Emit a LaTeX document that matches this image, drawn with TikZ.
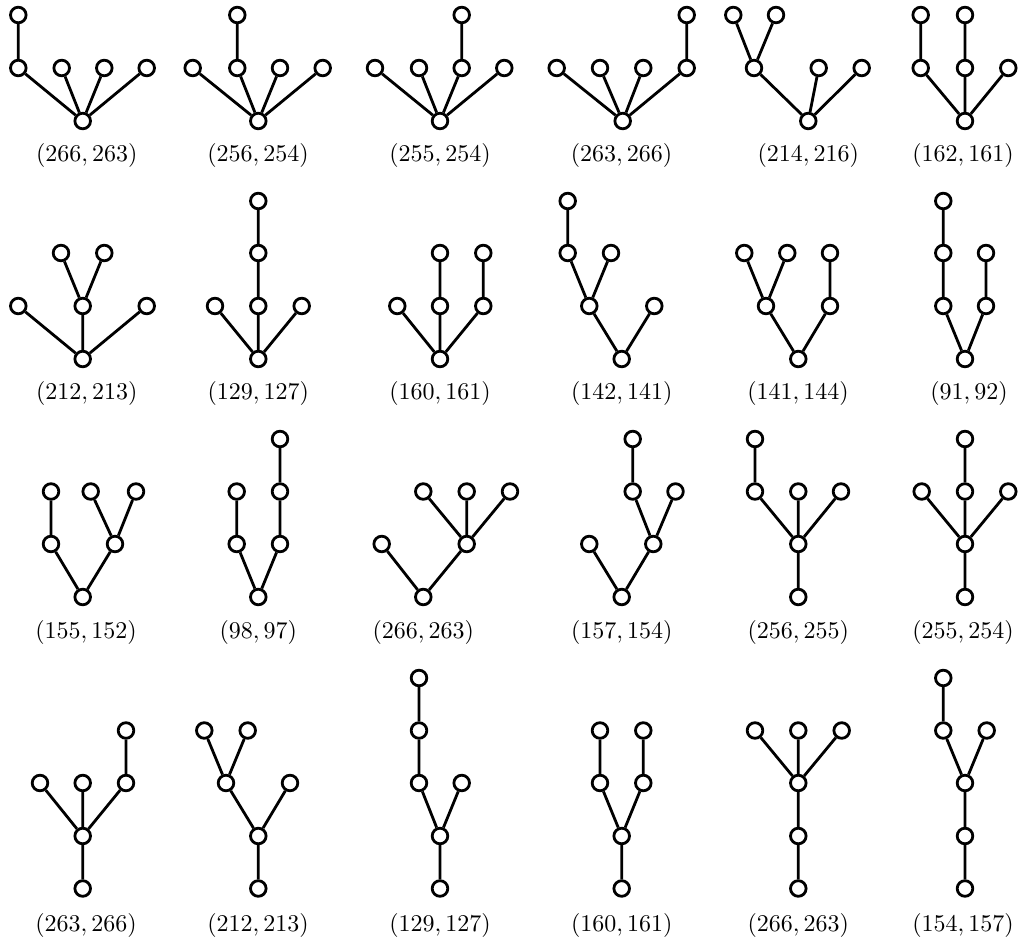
\documentclass[tikz,border=0pt]{standalone}
\begin{document}
\begin{tikzpicture}[x=1pt,y=-1pt,
  v/.style={circle,draw,line width=2.8pt,minimum size=15.6pt,inner sep=0pt,fill=white},
  e/.style={line width=2.8pt},
  lab/.style={inner sep=0pt,scale=2.4}]
\useasboundingbox (0,0) rectangle (1021,942);
% ---------- Row 1 ----------
% T1
\node[v] (t1r) at (82.7,121) {};
\node[v] (t1a) at (18.3,68) {};
\node[v] (t1b) at (61.7,68) {};
\node[v] (t1c) at (104.3,68) {};
\node[v] (t1d) at (146.7,68) {};
\node[v] (t1e) at (18.3,15) {};
\draw[e] (t1r)--(t1a) (t1r)--(t1b) (t1r)--(t1c) (t1r)--(t1d) (t1a)--(t1e);
\node[lab] (l1) at (86.7,155.5) {$(266, 263)$};
% T2
\node[v] (t2r) at (258.3,121) {};
\node[v] (t2a) at (192.7,68) {};
\node[v] (t2b) at (237.3,68) {};
\node[v] (t2c) at (280,68) {};
\node[v] (t2d) at (322.7,68) {};
\node[v] (t2e) at (237.3,15) {};
\draw[e] (t2r)--(t2a) (t2r)--(t2b) (t2r)--(t2c) (t2r)--(t2d) (t2b)--(t2e);
\node[lab] (l2) at (258,155.5) {$(256, 254)$};
% T3
\node[v] (t3r) at (440,121) {};
\node[v] (t3a) at (375,68) {};
\node[v] (t3b) at (419,68) {};
\node[v] (t3c) at (461.7,68) {};
\node[v] (t3d) at (504.3,68) {};
\node[v] (t3e) at (461.7,15) {};
\draw[e] (t3r)--(t3a) (t3r)--(t3b) (t3r)--(t3c) (t3r)--(t3d) (t3c)--(t3e);
\node[lab] (l3) at (440,155.5) {$(255, 254)$};
% T4
\node[v] (t4r) at (622.7,121) {};
\node[v] (t4a) at (556.7,68) {};
\node[v] (t4b) at (600,68) {};
\node[v] (t4c) at (643.3,68) {};
\node[v] (t4d) at (686.7,68) {};
\node[v] (t4e) at (686.7,15) {};
\draw[e] (t4r)--(t4a) (t4r)--(t4b) (t4r)--(t4c) (t4r)--(t4d) (t4d)--(t4e);
\node[lab] (l4) at (621.5,155.5) {$(263, 266)$};
% T5
\node[v] (t5r) at (808.3,121) {};
\node[v] (t5a) at (754,68) {};
\node[v] (t5b) at (818.7,68) {};
\node[v] (t5c) at (861.7,68) {};
\node[v] (t5e) at (733.3,15) {};
\node[v] (t5f) at (776,15) {};
\draw[e] (t5r)--(t5a) (t5r)--(t5b) (t5r)--(t5c) (t5a)--(t5e) (t5a)--(t5f);
\node[lab] (l5) at (808.3,155.5) {$(214, 216)$};
% T6
\node[v] (t6r) at (965,121) {};
\node[v] (t6a) at (920.7,68) {};
\node[v] (t6b) at (965,68) {};
\node[v] (t6c) at (1008.3,68) {};
\node[v] (t6e) at (920.7,15) {};
\node[v] (t6f) at (965,15) {};
\draw[e] (t6r)--(t6a) (t6r)--(t6b) (t6r)--(t6c) (t6a)--(t6e) (t6b)--(t6f);
\node[lab] (l6) at (963,155.5) {$(162, 161)$};
% ---------- Row 2 ----------
% T7
\node[v] (t7r) at (82.7,359) {};
\node[v] (t7a) at (18.3,306) {};
\node[v] (t7b) at (82.7,306) {};
\node[v] (t7c) at (146.7,306) {};
\node[v] (t7e) at (61,253) {};
\node[v] (t7f) at (104.3,253) {};
\draw[e] (t7r)--(t7a) (t7r)--(t7b) (t7r)--(t7c) (t7b)--(t7e) (t7b)--(t7f);
\node[lab] (l7) at (86.7,393) {$(212, 213)$};
% T8
\node[v] (t8r) at (258.3,359) {};
\node[v] (t8a) at (215,306) {};
\node[v] (t8b) at (258.3,306) {};
\node[v] (t8c) at (301.7,306) {};
\node[v] (t8e) at (258.3,253) {};
\node[v] (t8f) at (258.3,201) {};
\draw[e] (t8r)--(t8a) (t8r)--(t8b) (t8r)--(t8c) (t8b)--(t8e) (t8e)--(t8f);
\node[lab] (l8) at (258.3,393) {$(129, 127)$};
% T9
\node[v] (t9r) at (440,359) {};
\node[v] (t9a) at (397.3,306) {};
\node[v] (t9b) at (440,306) {};
\node[v] (t9c) at (483.3,306) {};
\node[v] (t9e) at (440,253) {};
\node[v] (t9f) at (483.3,253) {};
\draw[e] (t9r)--(t9a) (t9r)--(t9b) (t9r)--(t9c) (t9b)--(t9e) (t9c)--(t9f);
\node[lab] (l9) at (440,393) {$(160, 161)$};
% T10
\node[v] (t10r) at (621.7,359) {};
\node[v] (t10a) at (589.3,306) {};
\node[v] (t10b) at (654.3,306) {};
\node[v] (t10e) at (567.7,253) {};
\node[v] (t10f) at (611,253) {};
\node[v] (t10g) at (567.7,201) {};
\draw[e] (t10r)--(t10a) (t10r)--(t10b) (t10a)--(t10e) (t10a)--(t10f) (t10e)--(t10g);
\node[lab] (l10) at (621.7,393) {$(142, 141)$};
% T11
\node[v] (t11r) at (798.3,359) {};
\node[v] (t11a) at (766,306) {};
\node[v] (t11b) at (830,306) {};
\node[v] (t11e) at (744.3,253) {};
\node[v] (t11f) at (787.3,253) {};
\node[v] (t11g) at (830,253) {};
\draw[e] (t11r)--(t11a) (t11r)--(t11b) (t11a)--(t11e) (t11a)--(t11f) (t11b)--(t11g);
\node[lab] (l11) at (798,393) {$(141, 144)$};
% T12
\node[v] (t12r) at (965,359) {};
\node[v] (t12a) at (943.3,306) {};
\node[v] (t12b) at (986,306) {};
\node[v] (t12e) at (943.3,253) {};
\node[v] (t12f) at (986,253) {};
\node[v] (t12g) at (943.3,201) {};
\draw[e] (t12r)--(t12a) (t12r)--(t12b) (t12a)--(t12e) (t12e)--(t12g) (t12b)--(t12f);
\node[lab] (l12) at (969,393) {$(91, 92)$};
% ---------- Row 3 ----------
% T13
\node[v] (t13r) at (82.7,597) {};
\node[v] (t13a) at (51,544) {};
\node[v] (t13b) at (115,544) {};
\node[v] (t13e) at (51,491.5) {};
\node[v] (t13f) at (90.7,491.5) {};
\node[v] (t13g) at (136,491.5) {};
\draw[e] (t13r)--(t13a) (t13r)--(t13b) (t13a)--(t13e) (t13b)--(t13f) (t13b)--(t13g);
\node[lab] (l13) at (86,632.5) {$(155, 152)$};
% T14
\node[v] (t14r) at (258.3,597) {};
\node[v] (t14a) at (236.7,544) {};
\node[v] (t14b) at (280,544) {};
\node[v] (t14e) at (236.7,491.5) {};
\node[v] (t14f) at (280,491.5) {};
\node[v] (t14g) at (280,439) {};
\draw[e] (t14r)--(t14a) (t14r)--(t14b) (t14a)--(t14e) (t14b)--(t14f) (t14f)--(t14g);
\node[lab] (l14) at (258.3,632.5) {$(98, 97)$};
% T15
\node[v] (t15r) at (423.3,597) {};
\node[v] (t15a) at (381.7,544) {};
\node[v] (t15b) at (466.7,544) {};
\node[v] (t15e) at (423.3,491.5) {};
\node[v] (t15f) at (466.7,491.5) {};
\node[v] (t15g) at (510,491.5) {};
\draw[e] (t15r)--(t15a) (t15r)--(t15b) (t15b)--(t15e) (t15b)--(t15f) (t15b)--(t15g);
\node[lab] (l15) at (423.3,632.5) {$(266, 263)$};
% T16
\node[v] (t16r) at (621.7,597) {};
\node[v] (t16a) at (589.3,544) {};
\node[v] (t16b) at (653.3,544) {};
\node[v] (t16e) at (632.7,491.5) {};
\node[v] (t16f) at (675.5,491.5) {};
\node[v] (t16g) at (632.7,439) {};
\draw[e] (t16r)--(t16a) (t16r)--(t16b) (t16b)--(t16e) (t16b)--(t16f) (t16e)--(t16g);
\node[lab] (l16) at (621.7,632.5) {$(157, 154)$};
% T17
\node[v] (t17r) at (798.3,597) {};
\node[v] (t17a) at (798.3,544) {};
\node[v] (t17b) at (755,491.5) {};
\node[v] (t17c) at (798.3,491.5) {};
\node[v] (t17d) at (841,491.5) {};
\node[v] (t17e) at (755,439) {};
\draw[e] (t17r)--(t17a) (t17a)--(t17b) (t17a)--(t17c) (t17a)--(t17d) (t17b)--(t17e);
\node[lab] (l17) at (798.3,632.5) {$(256, 255)$};
% T18
\node[v] (t18r) at (965,597) {};
\node[v] (t18a) at (965,544) {};
\node[v] (t18b) at (921.7,491.5) {};
\node[v] (t18c) at (965,491.5) {};
\node[v] (t18d) at (1008.3,491.5) {};
\node[v] (t18e) at (965,439) {};
\draw[e] (t18r)--(t18a) (t18a)--(t18b) (t18a)--(t18c) (t18a)--(t18d) (t18c)--(t18e);
\node[lab] (l18) at (963,632.5) {$(255, 254)$};
% ---------- Row 4 ----------
% T19
\node[v] (t19r) at (82.7,888.5) {};
\node[v] (t19a) at (82.7,836) {};
\node[v] (t19b) at (40,783) {};
\node[v] (t19c) at (82.7,783) {};
\node[v] (t19d) at (126,783) {};
\node[v] (t19e) at (126,730.5) {};
\draw[e] (t19r)--(t19a) (t19a)--(t19b) (t19a)--(t19c) (t19a)--(t19d) (t19d)--(t19e);
\node[lab] (l19) at (86,925) {$(263, 266)$};
% T20
\node[v] (t20r) at (258.3,888.5) {};
\node[v] (t20a) at (258.3,836) {};
\node[v] (t20b) at (226,783) {};
\node[v] (t20c) at (290,783) {};
\node[v] (t20e) at (204.3,730.5) {};
\node[v] (t20f) at (247.7,730.5) {};
\draw[e] (t20r)--(t20a) (t20a)--(t20b) (t20a)--(t20c) (t20b)--(t20e) (t20b)--(t20f);
\node[lab] (l20) at (258,925) {$(212, 213)$};
% T21
\node[v] (t21r) at (440,888.5) {};
\node[v] (t21a) at (440,836) {};
\node[v] (t21b) at (419,783) {};
\node[v] (t21c) at (461.7,783) {};
\node[v] (t21e) at (419,730.5) {};
\node[v] (t21f) at (419,678) {};
\draw[e] (t21r)--(t21a) (t21a)--(t21b) (t21a)--(t21c) (t21b)--(t21e) (t21e)--(t21f);
\node[lab] (l21) at (440,925) {$(129, 127)$};
% T22
\node[v] (t22r) at (621.7,888.5) {};
\node[v] (t22a) at (621.7,836) {};
\node[v] (t22b) at (600,783) {};
\node[v] (t22c) at (643.3,783) {};
\node[v] (t22e) at (600,730.5) {};
\node[v] (t22f) at (643.3,730.5) {};
\draw[e] (t22r)--(t22a) (t22a)--(t22b) (t22a)--(t22c) (t22b)--(t22e) (t22c)--(t22f);
\node[lab] (l22) at (621.7,925) {$(160, 161)$};
% T23
\node[v] (t23r) at (798.3,888.5) {};
\node[v] (t23a) at (798.3,836) {};
\node[v] (t23b) at (798.3,783) {};
\node[v] (t23c) at (755,730.5) {};
\node[v] (t23d) at (798.3,730.5) {};
\node[v] (t23e) at (841.7,730.5) {};
\draw[e] (t23r)--(t23a) (t23a)--(t23b) (t23b)--(t23c) (t23b)--(t23d) (t23b)--(t23e);
\node[lab] (l23) at (798.3,925) {$(266, 263)$};
% T24
\node[v] (t24r) at (965,888.5) {};
\node[v] (t24a) at (965,836) {};
\node[v] (t24b) at (965,783) {};
\node[v] (t24c) at (943.3,730.5) {};
\node[v] (t24d) at (986.7,730.5) {};
\node[v] (t24e) at (943.3,678) {};
\draw[e] (t24r)--(t24a) (t24a)--(t24b) (t24b)--(t24c) (t24b)--(t24d) (t24c)--(t24e);
\node[lab] (l24) at (963,925) {$(154, 157)$};
\end{tikzpicture}
\end{document}
